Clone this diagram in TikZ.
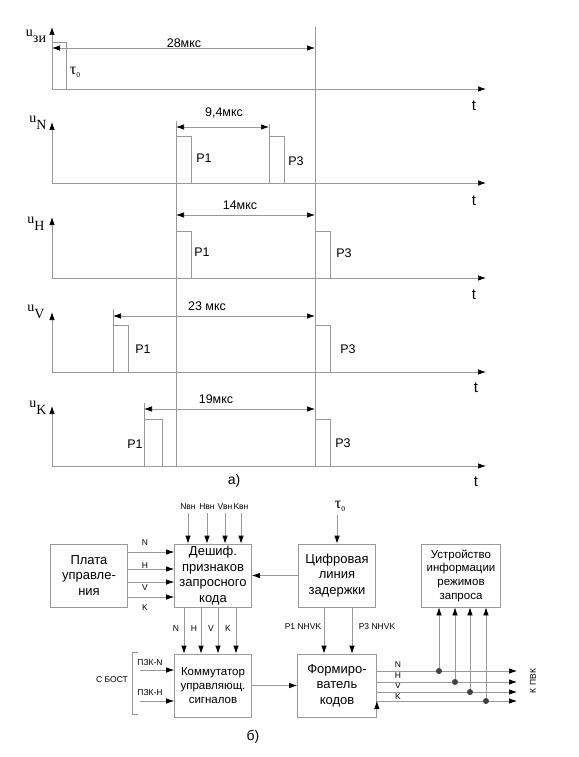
\documentclass[tikz,border=0pt]{standalone}
\usepackage{fontspec}
\setmainfont{Liberation Sans}
\newfontfamily\tms{Liberation Serif}
\usetikzlibrary{arrows.meta,positioning}
\definecolor{ln}{gray}{0.6}

\begin{document}
\begin{tikzpicture}[x=1pt,y=-1pt,
            >={Latex[black,length=8pt,width=5.5pt]},
            line/.style={draw=ln,line width=.7pt},
            block/.style={line,rectangle,align=center,inner sep=0pt,minimum width=77,minimum height=63,node distance=124pt},
            big/.style={font=\fontsize{13}{15.5}\selectfont},
            mid/.style={font=\fontsize{11.5}{13.7}\selectfont},
            lab/.style={font=\fontsize{12.5}{14}\selectfont},
            small/.style={font=\fontsize{8.5}{10}\selectfont},
            axl/.style={font=\fontsize{15}{17}\selectfont},
            ul/.style={font=\tms\fontsize{14}{16}\selectfont},
            taul/.style={font=\tms\fontsize{16}{18}\selectfont},
            dot/.style={circle,fill=black!75,inner sep=0pt,minimum size=6}
          ]
          \useasboundingbox (0,0) rectangle (578,757);

          %time axes
          \draw[line,->] (52,89) -- (486,89);
          \draw[line,->] (52,183) -- (486,183);
          \draw[line,->] (52,278) -- (486,278);
          \draw[line,->] (52,372) -- (486,372);
          \draw[line,->] (52,466) -- (486,466);
          \draw[line,->] (52,89) -- (52,27);
          \draw[line,->] (52,183) -- (52,122);
          \draw[line,->] (52,278) -- (52,217);
          \draw[line,->] (52,372) -- (52,312);
          \draw[line,->] (52,466) -- (52,406);
          \node[axl] (t1) at (474,106) {t};
          \node[axl] (t2) at (474,201) {t};
          \node[axl] (t3) at (474,295) {t};
          \node[axl] (t4) at (476,388) {t};
          \node[axl] (t5) at (476,482) {t};

          %axis labels
          \node[ul] (uzi) at (36,36) {u\raisebox{-6pt}{зи}};
          \node[ul] (uN) at (38,123) {u\raisebox{-7pt}{N}};
          \node[ul] (uH) at (36,224) {u\raisebox{-7pt}{H}};
          \node[ul] (uV) at (36,312) {u\raisebox{-7pt}{V}};
          \node[ul] (uK) at (38,408) {u\raisebox{-7pt}{K}};

          %markers
          \draw[line] (176,121) -- (176,466);
          \draw[line] (315,27) -- (315,466);
          \draw[line] (113,309) -- (113,372);
          \draw[line] (144,403) -- (144,466);
          \draw[line] (269,124) -- (269,183);

          %pulses
          \draw[line] (52,42) -- (66,42) -- (66,89);
          \draw[line] (176,136) -- (191,136) -- (191,183);
          \draw[line] (269,136) -- (284,136) -- (284,183);
          \draw[line] (176,231) -- (191,231) -- (191,278);
          \draw[line] (315,231) -- (330,231) -- (330,278);
          \draw[line] (113,325) -- (128,325) -- (128,372);
          \draw[line] (315,325) -- (330,325) -- (330,372);
          \draw[line] (144,419) -- (162,419) -- (162,466);
          \draw[line] (315,419) -- (330,419) -- (330,466);

          %intervals
          \draw[line,<->] (52,48) -- (315,48);
          \draw[line,<->] (176,127) -- (269,127);
          \draw[line,<->] (176,215) -- (315,215);
          \draw[line,<->] (113,316) -- (315,316);
          \draw[line,<->] (144,409) -- (315,409);
          \node[lab] (i1) at (184,43) {28мкс};
          \node[lab] (i2) at (224,113) {9,4мкс};
          \node[lab] (i3) at (240,205) {14мкс};
          \node[lab] (i4) at (207,306) {23 мкс};
          \node[lab] (i5) at (216,399) {19мкс};
          \node[taul] (tau1) at (75,72) {τ\raisebox{-3pt}{\fontsize{7.5}{8}\selectfont 0}};

          %pulse names
          \node[lab] (p1N) at (204,158) {P1};
          \node[lab] (p3N) at (296,161) {P3};
          \node[lab] (p1H) at (202,252) {P1};
          \node[lab] (p3H) at (344,253) {P3};
          \node[lab] (p1V) at (143,349) {P1};
          \node[lab] (p3V) at (348,349) {P3};
          \node[lab] (p1K) at (135,444) {P1};
          \node[lab] (p3K) at (343,443) {P3};
          \node[axl,font=\fontsize{14}{15}\selectfont] (capa) at (234,481) {а)};

          %blocks
          \node[block,big] (plata) at (89,575.5) {Плата\\управле-\\ния};
          \node[block,big,right of = plata] (desh) {Дешиф.\\признаков\\запросного\\кода};
          \node[block,big,right of = desh] (cifr) {Цифровая\\линия\\задержки};
          \node[block,mid,right of = cifr,minimum width=79] (dev) {Устройство\\информации\\режимов\\запроса};
          \node[block,mid,below of = desh,node distance=110pt] (komm) {Коммутатор\\управляющ.\\сигналов};
          \node[block,big,below of = cifr,node distance=110pt,minimum width=79] (form) {Формиро-\\ватель\\кодов};

          %inputs
          \node[small] (nvn) at (188,507) {Nвн};
          \node[small] (hvn) at (207,507) {Hвн};
          \node[small] (vvn) at (225,507) {Vвн};
          \node[small] (kvn) at (241,507) {Kвн};
          \node[taul] (tau2) at (340,506) {τ\raisebox{-3pt}{\fontsize{7.5}{8}\selectfont 0}};
          \node[small] (bost) at (112,680) {С БОСТ};
          \node[small] (pzkn) at (150,663) {ПЗК-N};
          \node[small] (pzkh) at (150,693) {ПЗК-Н};
          \coordinate (inN) at (140,670);
          \coordinate (inH) at (140,701);
          \draw[line] (138,652) -- (132,652) -- (132,714) -- (138,714);

          %labels
          \node[small] (a1) at (145,543) {N};
          \node[small] (a2) at (145,566) {H};
          \node[small] (a3) at (145,588) {V};
          \node[small] (a4) at (145,608) {K};
          \node[small] (b1) at (176,629) {N};
          \node[small] (b2) at (194,629) {H};
          \node[small] (b3) at (211,629) {V};
          \node[small] (b4) at (228,629) {K};
          \node[small] (c1) at (303,627) {P1 NHVK};
          \node[small] (c2) at (377,627) {P3 NHVK};
          \node[small] (d1) at (398,665) {N};
          \node[small] (d2) at (398,676) {H};
          \node[small] (d3) at (398,686) {V};
          \node[small] (d4) at (398,697) {K};
          \node[small,rotate=90] (pvk) at (533,681) {К ПВК};
          \node[axl,font=\fontsize{14}{15}\selectfont] (capb) at (253,737) {б)};

          %outputs
          \coordinate (oN) at (517,671);
          \coordinate (oH) at (517,682);
          \coordinate (oV) at (517,692);
          \coordinate (oK) at (517,701);

          \path[line,->]
          (plata.east |- 0,552) edge (desh.west |- 0,552)
          (plata.east |- 0,569) edge (desh.west |- 0,569)
          (plata.east |- 0,582) edge (desh.west |- 0,582)
          (plata.east |- 0,597) edge (desh.west |- 0,597)
          (nvn.south) edge (nvn.south |- desh.north)
          (hvn.south) edge (hvn.south |- desh.north)
          (vvn.south) edge (vvn.south |- desh.north)
          (kvn.south) edge (kvn.south |- desh.north)
          (tau2.south -| cifr.north) edge (cifr.north)
          (cifr.west) edge (desh.east)
          (desh.south -| 184,0) edge (komm.north -| 184,0)
          (desh.south -| 201,0) edge (komm.north -| 201,0)
          (desh.south -| 218,0) edge (komm.north -| 218,0)
          (desh.south -| 236,0) edge (komm.north -| 236,0)
          (inN) edge (inN -| komm.west)
          (inH) edge (inH -| komm.west)
          (komm.east) edge (form.west)
          (cifr.south -| 324,0) edge (form.north -| 324,0)
          (cifr.south -| 352,0) edge (form.north -| 352,0)
          (oN -| form.east) edge (oN)
          (oH -| form.east) edge (oH)
          (oV -| form.east) edge (oV)
          (oK -| form.east) edge (oK)
          ;

          \node[dot] (dN) at (439,671) {};
          \node[dot] (dH) at (455,682) {};
          \node[dot] (dV) at (470,692) {};
          \node[dot] (dK) at (486,701) {};
          \path[line,->]
          (dN) edge (dN |- dev.south)
          (dH) edge (dH |- dev.south)
          (dV) edge (dV |- dev.south)
          (dK) edge (dK |- dev.south)
          ;

      \end{tikzpicture}
\end{document}
